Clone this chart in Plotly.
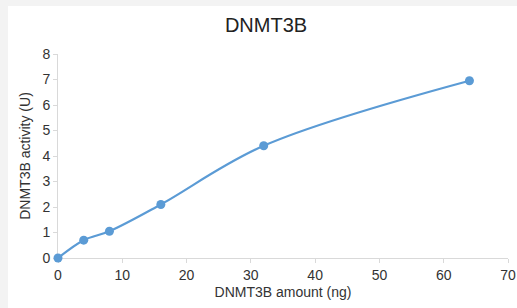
import plotly.graph_objects as go

amount_ng = [0, 4, 8, 16, 32, 64]
activity_u = [0, 0.7, 1.05, 2.1, 4.4, 6.95]
x_ticks = [0, 10, 20, 30, 40, 50, 60, 70]
y_ticks = [0, 1, 2, 3, 4, 5, 6, 7, 8]

color = "#5b9bd5"
axis_color = "#d9d9d9"
font = "Liberation Sans, Arial, sans-serif"

fig = go.Figure()
fig.add_trace(go.Scatter(
    x=amount_ng, y=activity_u, mode="lines+markers",
    line=dict(color=color, width=2.2, shape="spline", smoothing=1),
    marker=dict(color=color, size=9),
    cliponaxis=False, showlegend=False,
))

fig.add_shape(type="rect", xref="paper", yref="paper",
              x0=(8 - 58) / 450, x1=(517 - 58) / 450,
              y0=(258 - 308) / 204, y1=1 + (54 - 6) / 204,
              fillcolor="white", line=dict(width=0), layer="below")

fig.update_layout(
    width=517, height=308,
    margin=dict(l=58, r=9, t=54, b=50),
    paper_bgcolor="#f3f3f3", plot_bgcolor="white",
    font=dict(family=font, color="#333333", size=14),
    title=dict(text="DNMT3B", x=(266) / 517, xanchor="center",
               y=1 - 25 / 308, yanchor="middle",
               font=dict(size=20, color="#222222", family=font)),
)
fig.update_xaxes(
    range=[0, 70], tickvals=x_ticks, showgrid=False, zeroline=False,
    showline=True, linecolor=axis_color, linewidth=1, automargin=False,
    ticks="outside", ticklen=4, tickcolor=axis_color, layer="below traces",
    tickfont=dict(size=14, color="#333333"),
    title=dict(text="DNMT3B amount (ng)", font=dict(size=14, color="#333333"), standoff=5),
)
fig.update_yaxes(
    range=[0, 8], tickvals=y_ticks, showgrid=False, zeroline=False,
    showline=True, linecolor=axis_color, linewidth=1, automargin=False,
    ticks="outside", ticklen=4, tickcolor=axis_color, layer="below traces",
    tickfont=dict(size=14, color="#333333"),
    title=dict(text="DNMT3B activity (U)", font=dict(size=14, color="#333333"), standoff=8),
)

fig.write_html("out.html", config={"displayModeBar": False},
               post_script="document.body.style.margin='0';")
